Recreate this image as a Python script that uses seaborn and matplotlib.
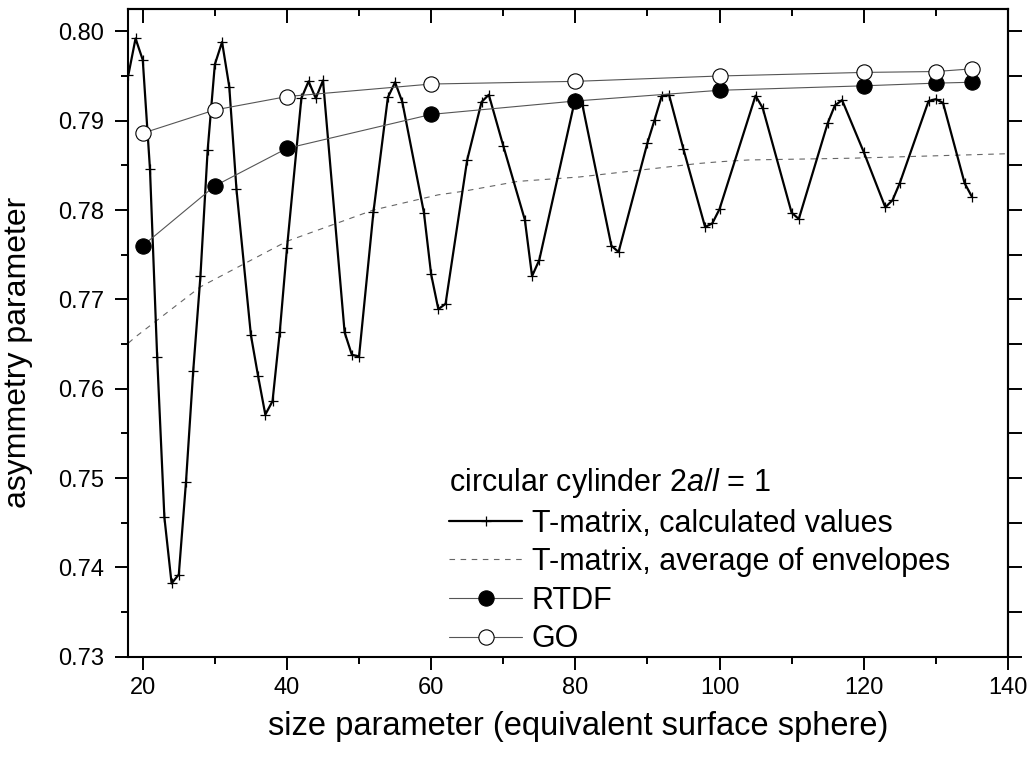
import matplotlib
matplotlib.use("Agg")
import matplotlib.pyplot as plt
import numpy as np
import seaborn as sns

# T-matrix, calculated values
tm_x = [18, 19, 20, 21, 22, 23, 24, 25, 26, 27, 28, 29, 30, 31, 32, 33, 35, 36, 37, 38,
        39, 40, 42, 43, 44, 45, 48, 49, 50, 52, 54, 55, 56, 59, 60, 61, 62, 65, 67, 68,
        70, 73, 74, 75, 80, 81, 85, 86, 90, 91, 92, 93, 95, 98, 99, 100, 105, 106, 110, 111,
        115, 116, 117, 120, 123, 124, 125, 129, 130, 131, 134, 135]
tm_g = [0.7951, 0.7992, 0.7968, 0.7846, 0.7635, 0.7456, 0.7382, 0.7392, 0.7496, 0.7620,
        0.7726, 0.7867, 0.7963, 0.7988, 0.7938, 0.7823, 0.7660, 0.7614, 0.7571, 0.7586,
        0.7663, 0.7757, 0.7925, 0.7944, 0.7925, 0.7945, 0.7663, 0.7638, 0.7636, 0.7798,
        0.7926, 0.7943, 0.7921, 0.7797, 0.7728, 0.7689, 0.7695, 0.7856, 0.7921, 0.7929,
        0.7872, 0.7789, 0.7726, 0.7744, 0.7925, 0.7917, 0.7760, 0.7753, 0.7875, 0.7901,
        0.7928, 0.7929, 0.7868, 0.7781, 0.7785, 0.7801, 0.7928, 0.7914, 0.7797, 0.7790,
        0.7897, 0.7917, 0.7923, 0.7865, 0.7803, 0.7811, 0.7830, 0.7922, 0.7924, 0.7920,
        0.7830, 0.7815]

# T-matrix, average of envelopes
env_x = [18, 19, 28, 40, 52, 61, 64.5, 72, 80.6, 97, 100, 104, 118.5, 140]
env_g = [0.7651, 0.7658, 0.7714, 0.7765, 0.7800, 0.7817, 0.7821, 0.7832, 0.7837,
         0.7852, 0.7854, 0.7856, 0.7858, 0.7863]

# RTDF and GO
pts_x = [20, 30, 40, 60, 80, 100, 120, 130, 135]
rtdf_g = [0.7760, 0.7827, 0.7869, 0.7907, 0.7922, 0.7934, 0.7939, 0.7942, 0.7943]
go_g = [0.7886, 0.7912, 0.7927, 0.7941, 0.7944, 0.7950, 0.7954, 0.7955, 0.7958]

sns.set_style("ticks")
plt.rcParams['font.family'] = ['Liberation Sans', 'DejaVu Sans']
plt.rcParams['mathtext.fontset'] = 'custom'
plt.rcParams['mathtext.rm'] = 'Liberation Sans'
plt.rcParams['mathtext.it'] = 'Liberation Sans:italic'
for key in ['text.color', 'axes.labelcolor', 'xtick.color', 'ytick.color',
            'xtick.labelcolor', 'ytick.labelcolor']:
    plt.rcParams[key] = 'black'

fig = plt.figure(figsize=(10.35, 7.62), dpi=100)
ax = fig.add_axes([0.124, 0.1382, 0.8498, 0.85])

sns.lineplot(x=env_x, y=env_g, ax=ax, color='#666666', lw=0.8, linestyle='--',
             label='T-matrix, average of envelopes', zorder=2)
ax.lines[-1].set_dashes([5, 5])
sns.lineplot(x=tm_x, y=tm_g, ax=ax, color='black', lw=1.6, marker='+', markersize=7,
             markeredgewidth=0.9, markeredgecolor='black',
             label='T-matrix, calculated values', zorder=3)
sns.lineplot(x=pts_x, y=rtdf_g, ax=ax, color='#555555', lw=0.8, marker='o', markersize=11,
             markerfacecolor='black', markeredgecolor='black', markeredgewidth=0.8,
             label='RTDF', zorder=4)
sns.lineplot(x=pts_x, y=go_g, ax=ax, color='#555555', lw=0.8, marker='o', markersize=11,
             markerfacecolor='white', markeredgecolor='black', markeredgewidth=0.8,
             label='GO', zorder=4)

ax.set_xlim(18, 140)
ax.set_ylim(0.73, 0.8025)
ax.set_xticks(np.arange(20, 141, 20))
ax.set_xticks(np.arange(30, 141, 20), minor=True)
ax.set_yticks(np.arange(0.73, 0.8001, 0.01))
ax.set_yticks(np.arange(0.735, 0.8, 0.01), minor=True)
ax.set_yticklabels([f"{v:.2f}" for v in np.arange(0.73, 0.8001, 0.01)])
ax.tick_params(which='major', direction='out', length=9.5, width=1.4, labelsize=17,
               top=False, right=False, color='black', labelcolor='black')
ax.tick_params(which='minor', direction='out', length=5, width=1.4, top=False, right=False)
ax.tick_params(axis='x', pad=5)
ax.tick_params(axis='y', pad=8)
for sp in ax.spines.values():
    sp.set_visible(True)
    sp.set_linewidth(1.5)
    sp.set_color('black')

top = ax.secondary_xaxis('top')
top.set_xticks(np.arange(20, 141, 20))
top.set_xticks(np.arange(30, 141, 20), minor=True)
top.tick_params(which='major', direction='in', length=10, width=1.4, labeltop=False)
top.tick_params(which='minor', direction='in', length=5, width=1.4)
top.spines['top'].set_linewidth(1.5)

right = ax.secondary_yaxis('right')
right.set_yticks(np.arange(0.73, 0.8026, 0.005))
right.tick_params(which='major', direction='out', length=10, width=1.4, labelright=False)
right.spines['right'].set_linewidth(1.5)

ax.set_xlabel('size parameter (equivalent surface sphere)', fontsize=23.5, color='black')
ax.set_ylabel('asymmetry parameter', fontsize=23, color='black')
ax.xaxis.set_label_coords(0.512, -0.084)
ax.yaxis.set_label_coords(-0.108, 0.47)

h, l = ax.get_legend_handles_labels()
order = [l.index('T-matrix, calculated values'), l.index('T-matrix, average of envelopes'),
         l.index('RTDF'), l.index('GO')]
leg = ax.legend([h[i] for i in order], [l[i] for i in order],
                title=r'circular cylinder 2$\mathit{a/l}$ = 1',
                loc='upper left', bbox_to_anchor=(449 / 1035, 1 - 466 / 762),
                bbox_transform=fig.transFigure, frameon=False, fontsize=22,
                title_fontsize=22, numpoints=1, handlelength=2.4, handletextpad=0.3,
                labelspacing=0.28, borderpad=0, borderaxespad=0, alignment='left')
for t in leg.get_texts():
    t.set_color('black')
leg.get_title().set_color('black')

fig.savefig('out.png', dpi=100)
